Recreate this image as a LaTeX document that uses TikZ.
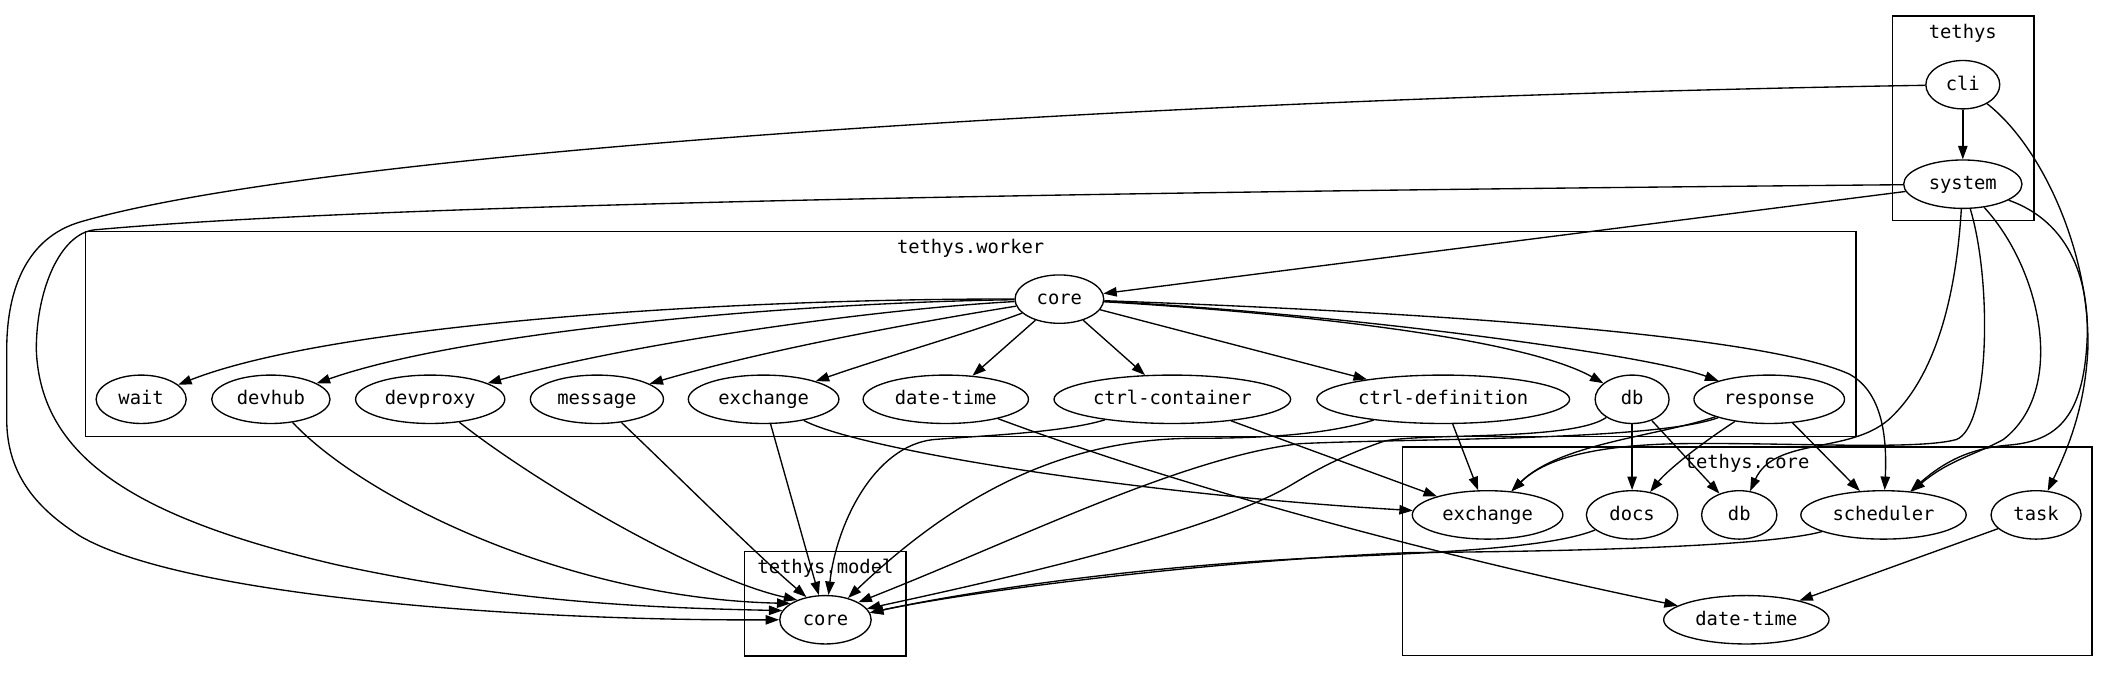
\documentclass[tikz,border=0pt]{standalone}
\usepackage{fontspec}
\newfontfamily\gvmono{DejaVu Sans Mono}
\usetikzlibrary{shapes.geometric,arrows.meta}
\begin{document}
\begin{tikzpicture}[x=1pt,y=-1pt,
  every node/.style={font=\gvmono\fontsize{14}{16}\selectfont},
  nd/.style={ellipse,draw,line width=1pt,inner sep=0pt,minimum height=36pt,text height=11pt,text depth=3pt},
  cl/.style={draw,line width=1pt},
  lbl/.style={anchor=base,inner sep=0pt},
  edg/.style={draw,line width=1pt,-{Triangle[length=10pt,width=7pt]}}
]
\useasboundingbox (0,0) rectangle (1568,500);
% clusters
\draw[cl] (1407.5,12) rectangle (1513,164);
\draw[cl] (63.5,172) rectangle (1380.5,324.5);
\draw[cl] (554,410) rectangle (674,488);
\draw[cl] (1043,332.5) rectangle (1556,487.6);
\node[lbl] (ltethys) at (1460,28.5) {tethys};
\node[lbl] (lworker) at (722,188.5) {tethys.worker};
\node[lbl] (lmodel) at (614,426.6) {tethys.model};
\node[lbl] (lcore) at (1299.5,348.5) {tethys.core};
% nodes
\node[nd,minimum width=55pt] (cli) at (1460,63) {cli};
\node[nd,minimum width=88pt] (system) at (1460,137) {system};
\node[nd,minimum width=66pt] (wcore) at (788,222.5) {core};
\node[nd,minimum width=67pt] (wait) at (105,297) {wait};
\node[nd,minimum width=88pt] (devhub) at (201.5,297) {devhub};
\node[nd,minimum width=111pt] (devproxy) at (320,297) {devproxy};
\node[nd,minimum width=99pt] (message) at (444,297) {message};
\node[nd,minimum width=112pt] (wexch) at (568,297) {exchange};
\node[nd,minimum width=123pt] (wdt) at (703.5,297) {date-time};
\node[nd,minimum width=176pt] (ccont) at (872,297) {ctrl-container};
\node[nd,minimum width=188pt] (cdef) at (1073.5,297) {ctrl-definition};
\node[nd,minimum width=55pt] (wdb) at (1214,297) {db};
\node[nd,minimum width=112pt] (resp) at (1316,297) {response};
\node[nd,minimum width=68pt] (mcore) at (614,461) {core};
\node[nd,minimum width=112pt] (cexch) at (1106.5,383) {exchange};
\node[nd,minimum width=68pt] (docs) at (1214,383) {docs};
\node[nd,minimum width=56pt] (cdb) at (1293.7,383) {db};
\node[nd,minimum width=123pt] (sched) at (1401,383) {scheduler};
\node[nd,minimum width=67pt] (task) at (1514.5,383) {task};
\node[nd,minimum width=123pt] (cdt) at (1299,461) {date-time};
% edges from tethys
\draw[edg] (cli) -- (system);
\draw[edg] (cli) .. controls (900,72) and (250,110) .. (60,165) .. controls (20,176.6) and (5,215) .. (5,260) -- (5,312) .. controls (5,355) and (30,380) .. (60,399) .. controls (140,445) and (400,462) .. (mcore.180);
\draw[edg] (system) .. controls (900,142) and (300,150) .. (70,171) .. controls (45,174) and (27,215) .. (27,260) .. controls (30,340) and (100,385) .. (250,420) .. controls (380,448) and (480,452) .. (mcore.168);
\draw[edg] (system) -- (wcore);
\draw[edg] (cli) .. controls (1520,110) and (1555,190) .. (1553,260) .. controls (1551,300) and (1540,330) .. (task);
\draw[edg] (system) .. controls (1540,165) and (1556,210) .. (1552,260) .. controls (1548,310) and (1530,328) .. (1495,331) .. controls (1470,333) and (1450,340) .. (sched);
\draw[edg] (system) .. controls (1518,200) and (1538,290) .. (1490,327) .. controls (1470,338) and (1450,342) .. (sched);
\draw[edg] (system) .. controls (1482,210) and (1480,318) .. (1455,327) .. controls (1425,335) and (1330,329) .. (1250,330) .. controls (1190,331) and (1150,340) .. (cexch);
\draw[edg] (system) .. controls (1455,220) and (1440,280) .. (1405,312) .. controls (1375,338) and (1320,325) .. (cdb);
% worker core fan
\draw[edg] (wcore) .. controls (550,222) and (250,240) .. (wait);
\draw[edg] (wcore) .. controls (600,225) and (350,245) .. (devhub);
\draw[edg] (wcore) .. controls (650,230) and (470,255) .. (devproxy);
\draw[edg] (wcore) .. controls (680,240) and (570,260) .. (message);
\draw[edg] (wcore) .. controls (720,248) and (660,265) .. (wexch);
\draw[edg] (wcore) -- (wdt);
\draw[edg] (wcore) -- (ccont);
\draw[edg] (wcore) -- (cdef);
\draw[edg] (wcore) .. controls (950,232) and (1130,250) .. (wdb);
\draw[edg] (wcore) .. controls (980,232) and (1220,262) .. (resp);
\draw[edg] (wcore) .. controls (1000,230) and (1300,245) .. (1375,278) .. controls (1398,290) and (1404,320) .. (sched);
% worker nodes to model core
\draw[edg] (devhub) .. controls (270,370) and (420,445) .. (mcore.155);
\draw[edg] (devproxy) .. controls (400,360) and (520,430) .. (mcore.145);
\draw[edg] (message) .. controls (500,350) and (560,410) .. (mcore.130);
\draw[edg] (wexch) -- (mcore.105);
\draw[edg] (ccont) .. controls (790,322) and (730,324) .. (694,327) .. controls (650,332) and (622,390) .. (mcore.83);
\draw[edg] (cdef) .. controls (990,322) and (950,326) .. (890,326) .. controls (800,326) and (720,360) .. (mcore.44);
\draw[edg] (resp) .. controls (1230,328) and (1050,326) .. (967,330) .. controls (880,340) and (760,400) .. (mcore.28);
\draw[edg] (wdb) .. controls (1170,328) and (1060,322) .. (1030,328) .. controls (995,340) and (975,352) .. (960,361) .. controls (900,396) and (750,430) .. (mcore.15);
\draw[edg] (docs) .. controls (1160,405) and (1100,410) .. (1000,414) .. controls (850,420) and (720,440) .. (mcore.9);
\draw[edg] (sched) .. controls (1320,405) and (1200,410) .. (1050,411) .. controls (900,417) and (720,440) .. (mcore.9);
% worker nodes to tethys.core
\draw[edg] (wexch) .. controls (640,335) and (850,368) .. (cexch);
\draw[edg] (wdt) .. controls (900,370) and (1100,420) .. (cdt);
\draw[edg] (ccont) -- (cexch);
\draw[edg] (cdef) -- (cexch);
\draw[edg] (wdb) -- (docs);
\draw[edg] (wdb) -- (cdb);
\draw[edg] (resp) .. controls (1230,325) and (1160,330) .. (cexch);
\draw[edg] (resp) .. controls (1265,330) and (1240,350) .. (docs);
\draw[edg] (resp) -- (sched);
\draw[edg] (task) -- (cdt);
\end{tikzpicture}
\end{document}
